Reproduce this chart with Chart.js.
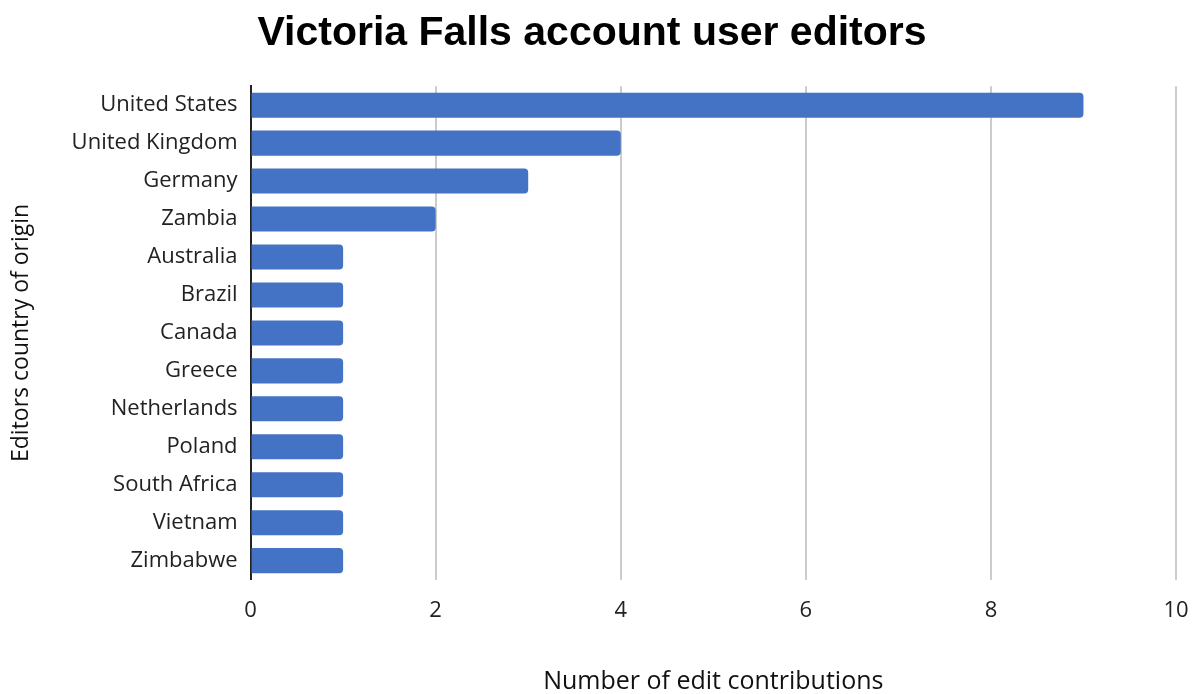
<!DOCTYPE html>
<html>
<head>
<meta charset="utf-8">
<script src="https://cdn.jsdelivr.net/npm/chart.js@4"></script>
<style>
  html, body { margin: 0; padding: 0; background: #fff; }
  #wrap { width: 1200px; height: 694px; }
</style>
</head>
<body>
<div id="wrap"><canvas id="chartEditores"></canvas></div>
<script>
// paises de los editores y numero de ediciones
const paises = ['United States', 'United Kingdom', 'Germany', 'Zambia', 'Australia', 'Brazil',
  'Canada', 'Greece', 'Netherlands', 'Poland', 'South Africa', 'Vietnam', 'Zimbabwe'];
const ediciones = [9, 4, 3, 2, 1, 1, 1, 1, 1, 1, 1, 1, 1];
const ticksX = [0, 2, 4, 6, 8, 10];

const ctx = document.getElementById('chartEditores').getContext('2d');

const chart = new Chart(ctx, {
  type: 'bar',
  data: {
    labels: paises,
    datasets: [{
      label: 'Number of edit contributions',
      data: ediciones,
      backgroundColor: '#4472C4',
      borderRadius: { topRight: 4, bottomRight: 4 },
      borderSkipped: 'start',
      barPercentage: 0.66,
      categoryPercentage: 1
    }]
  },
  options: {
    indexAxis: 'y',
    responsive: true,
    maintainAspectRatio: false,
    animation: false,
    layout: { padding: { top: 9, right: 24, bottom: 0, left: 8 } },
    plugins: {
      legend: { display: false },
      tooltip: { enabled: false },
      title: {
        display: true,
        text: 'Victoria Falls account user editors',
        color: '#000',
        font: { family: 'Liberation Sans', size: 41, weight: 'bold' },
        padding: { top: 0, bottom: 28 }
      }
    },
    scales: {
      x: {
        min: 0,
        max: 10,
        afterBuildTicks: (axis) => { axis.ticks = ticksX.map(v => ({ value: v })); },
        // el "10" puede salirse un poco del area, no reservar espacio extra
        afterFit: (axis) => { axis.paddingRight = 0; },
        grid: { color: '#cccccc', lineWidth: 2, drawTicks: false },
        border: { display: false },
        ticks: {
          color: '#222',
          padding: 18,
          font: { family: 'Open Sans', size: 22 }
        },
        title: {
          display: true,
          text: 'Number of edit contributions',
          color: '#111',
          font: { family: 'Open Sans', size: 25, lineHeight: 1 },
          padding: { top: 27, bottom: 0 }
        }
      },
      y: {
        grid: { display: false, drawTicks: false },
        border: { display: true, color: '#222', width: 2 },
        ticks: {
          color: '#222',
          padding: 13,
          font: { family: 'Open Sans', size: 22 }
        },
        title: {
          display: true,
          text: 'Editors country of origin',
          color: '#111',
          font: { family: 'Open Sans', size: 23 },
          padding: { top: 0, bottom: 23 }
        }
      }
    }
  }
});
</script>
</body>
</html>
